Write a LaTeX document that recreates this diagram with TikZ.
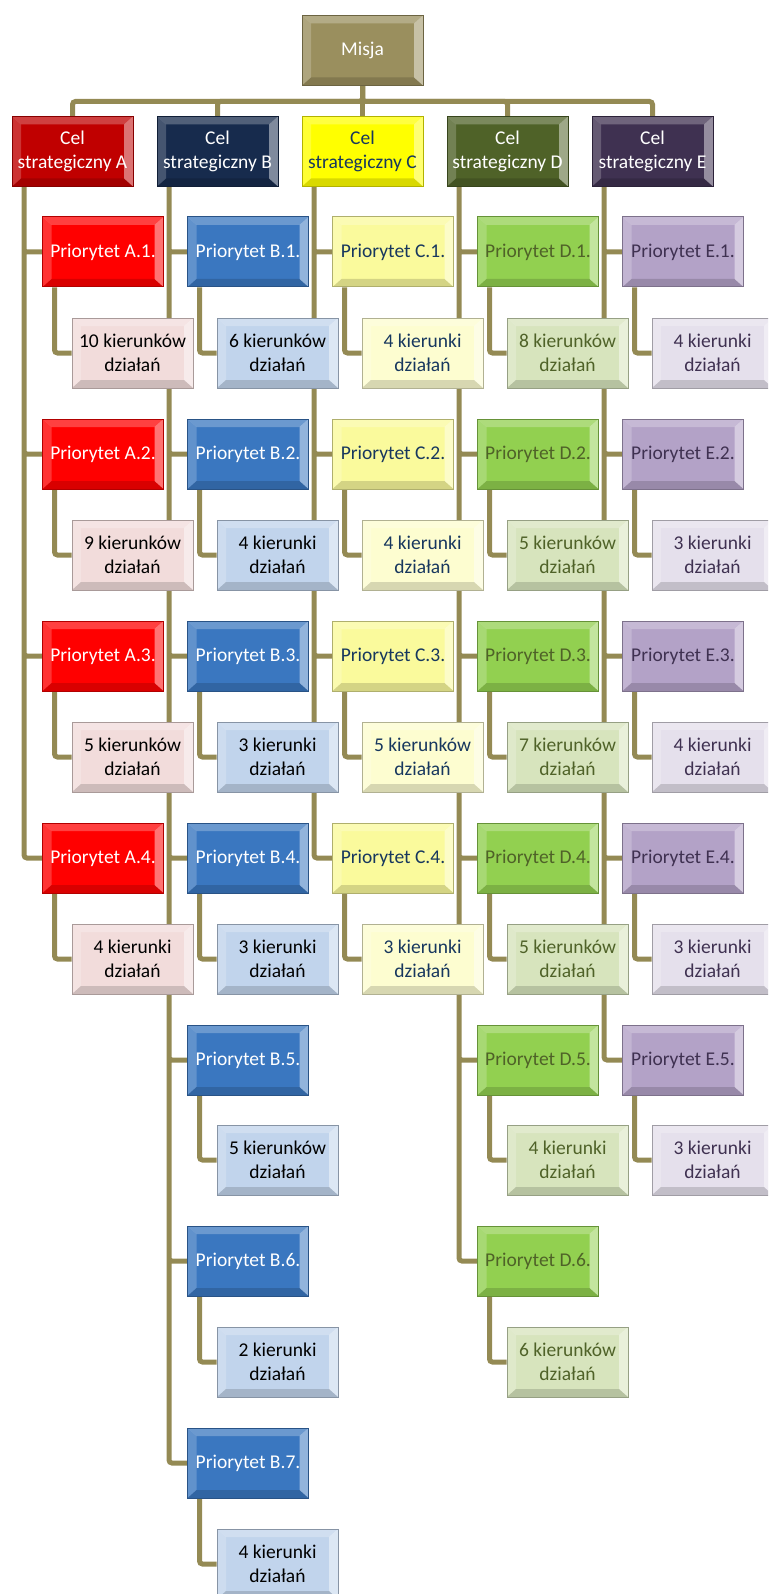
\documentclass[tikz,border=0pt]{standalone}
\usepackage{fontspec}
\setmainfont{Carlito}
\usetikzlibrary{calc,backgrounds}

\definecolor{linkcol}{HTML}{948A54}
\definecolor{misjafill}{HTML}{9A8F5E}
\definecolor{celAfill}{HTML}{C00000}
\definecolor{celBfill}{HTML}{172B4D}
\definecolor{celCfill}{HTML}{FFFF00}
\definecolor{celDfill}{HTML}{4F6228}
\definecolor{celEfill}{HTML}{3F3151}
\definecolor{prAfill}{HTML}{FF0000}
\definecolor{prBfill}{HTML}{3A77C0}
\definecolor{prCfill}{HTML}{FAFA9C}
\definecolor{prDfill}{HTML}{92D050}
\definecolor{prEfill}{HTML}{B3A2C7}
\definecolor{kAfill}{HTML}{F2DCDB}
\definecolor{kBfill}{HTML}{C1D4EC}
\definecolor{kCfill}{HTML}{FDFDD0}
\definecolor{kDfill}{HTML}{D7E4BD}
\definecolor{kEfill}{HTML}{E5E0EC}
\definecolor{navytext}{HTML}{17375E}
\definecolor{olivetext}{HTML}{4F6228}
\definecolor{purpletext}{HTML}{3F3151}

\tikzset{
  bevel/.style={path picture={
    \coordinate (bnw) at (path picture bounding box.north west);
    \coordinate (bne) at (path picture bounding box.north east);
    \coordinate (bsw) at (path picture bounding box.south west);
    \coordinate (bse) at (path picture bounding box.south east);
    \fill[white,opacity=.25] (bnw) -- (bne) -- ([shift={(-9pt,-8pt)}]bne) -- ([shift={(9pt,-8pt)}]bnw) -- cycle;
    \fill[white,opacity=.2] (bnw) -- ([shift={(9pt,-8pt)}]bnw) -- ([shift={(9pt,8pt)}]bsw) -- (bsw) -- cycle;
    \fill[white,opacity=.45] (bne) -- ([shift={(-9pt,-8pt)}]bne) -- ([shift={(-9pt,8pt)}]bse) -- (bse) -- cycle;
    \fill[black,opacity=.15] (bsw) -- ([shift={(9pt,8pt)}]bsw) -- ([shift={(-9pt,8pt)}]bse) -- (bse) -- cycle;
  }},
  box/.style 2 args={draw=#1!70!black, fill=#1, text=#2, line width=1pt,
    minimum width=121pt, minimum height=70pt, inner sep=0pt, align=center,
    font=\fontsize{19.5pt}{23.5pt}\selectfont, bevel},
  tie/.style={draw=linkcol, line width=5pt, rounded corners=3pt}
}

\begin{document}
\begin{tikzpicture}[x=1pt, y=-1pt]
\useasboundingbox (0,0) rectangle (768,1594);
\clip (0,0) rectangle (768,1594);

\node[box={misjafill}{white}] (misja) at (362.5,50.5) {Misja};

% cele strategiczne
\node[box={celAfill}{white}] (celA) at (72.5,151.5) {Cel\\strategiczny A};
\node[box={celBfill}{white}] (celB) at (217.5,151.5) {Cel\\strategiczny B};
\node[box={celCfill}{navytext}] (celC) at (362.5,151.5) {Cel\\strategiczny C};
\node[box={celDfill}{white}] (celD) at (507.5,151.5) {Cel\\strategiczny D};
\node[box={celEfill}{white}] (celE) at (652.5,151.5) {Cel\\strategiczny E};

% A
\node[box={prAfill}{white}] (prA1) at (103,252) {Priorytet A.1.};
\node[box={kAfill}{black}] (kA1) at (132.5,353) {10 kierunków\\działań};
\node[box={prAfill}{white}] (prA2) at (103,454) {Priorytet A.2.};
\node[box={kAfill}{black}] (kA2) at (132.5,555) {9 kierunków\\działań};
\node[box={prAfill}{white}] (prA3) at (103,656) {Priorytet A.3.};
\node[box={kAfill}{black}] (kA3) at (132.5,757) {5 kierunków\\działań};
\node[box={prAfill}{white}] (prA4) at (103,858) {Priorytet A.4.};
\node[box={kAfill}{black}] (kA4) at (132.5,959) {4 kierunki\\działań};

% B
\node[box={prBfill}{white}] (prB1) at (248,252) {Priorytet B.1.};
\node[box={kBfill}{black}] (kB1) at (277.5,353) {6 kierunków\\działań};
\node[box={prBfill}{white}] (prB2) at (248,454) {Priorytet B.2.};
\node[box={kBfill}{black}] (kB2) at (277.5,555) {4 kierunki\\działań};
\node[box={prBfill}{white}] (prB3) at (248,656) {Priorytet B.3.};
\node[box={kBfill}{black}] (kB3) at (277.5,757) {3 kierunki\\działań};
\node[box={prBfill}{white}] (prB4) at (248,858) {Priorytet B.4.};
\node[box={kBfill}{black}] (kB4) at (277.5,959) {3 kierunki\\działań};
\node[box={prBfill}{white}] (prB5) at (248,1060) {Priorytet B.5.};
\node[box={kBfill}{black}] (kB5) at (277.5,1160) {5 kierunków\\działań};
\node[box={prBfill}{white}] (prB6) at (248,1261) {Priorytet B.6.};
\node[box={kBfill}{black}] (kB6) at (277.5,1362) {2 kierunki\\działań};
\node[box={prBfill}{white}] (prB7) at (248,1463) {Priorytet B.7.};
\node[box={kBfill}{black}] (kB7) at (277.5,1564) {4 kierunki\\działań};

% C
\node[box={prCfill}{navytext}] (prC1) at (393,252) {Priorytet C.1.};
\node[box={kCfill}{navytext}] (kC1) at (422.5,353) {4 kierunki\\działań};
\node[box={prCfill}{navytext}] (prC2) at (393,454) {Priorytet C.2.};
\node[box={kCfill}{navytext}] (kC2) at (422.5,555) {4 kierunki\\działań};
\node[box={prCfill}{navytext}] (prC3) at (393,656) {Priorytet C.3.};
\node[box={kCfill}{navytext}] (kC3) at (422.5,757) {5 kierunków\\działań};
\node[box={prCfill}{navytext}] (prC4) at (393,858) {Priorytet C.4.};
\node[box={kCfill}{navytext}] (kC4) at (422.5,959) {3 kierunki\\działań};

% D
\node[box={prDfill}{olivetext}] (prD1) at (538,252) {Priorytet D.1.};
\node[box={kDfill}{olivetext}] (kD1) at (567.5,353) {8 kierunków\\działań};
\node[box={prDfill}{olivetext}] (prD2) at (538,454) {Priorytet D.2.};
\node[box={kDfill}{olivetext}] (kD2) at (567.5,555) {5 kierunków\\działań};
\node[box={prDfill}{olivetext}] (prD3) at (538,656) {Priorytet D.3.};
\node[box={kDfill}{olivetext}] (kD3) at (567.5,757) {7 kierunków\\działań};
\node[box={prDfill}{olivetext}] (prD4) at (538,858) {Priorytet D.4.};
\node[box={kDfill}{olivetext}] (kD4) at (567.5,959) {5 kierunków\\działań};
\node[box={prDfill}{olivetext}] (prD5) at (538,1060) {Priorytet D.5.};
\node[box={kDfill}{olivetext}] (kD5) at (567.5,1160) {4 kierunki\\działań};
\node[box={prDfill}{olivetext}] (prD6) at (538,1261) {Priorytet D.6.};
\node[box={kDfill}{olivetext}] (kD6) at (567.5,1362) {6 kierunków\\działań};

% E
\node[box={prEfill}{purpletext}] (prE1) at (683,252) {Priorytet E.1.};
\node[box={kEfill}{purpletext}] (kE1) at (712.5,353) {4 kierunki\\działań};
\node[box={prEfill}{purpletext}] (prE2) at (683,454) {Priorytet E.2.};
\node[box={kEfill}{purpletext}] (kE2) at (712.5,555) {3 kierunki\\działań};
\node[box={prEfill}{purpletext}] (prE3) at (683,656) {Priorytet E.3.};
\node[box={kEfill}{purpletext}] (kE3) at (712.5,757) {4 kierunki\\działań};
\node[box={prEfill}{purpletext}] (prE4) at (683,858) {Priorytet E.4.};
\node[box={kEfill}{purpletext}] (kE4) at (712.5,959) {3 kierunki\\działań};
\node[box={prEfill}{purpletext}] (prE5) at (683,1060) {Priorytet E.5.};
\node[box={kEfill}{purpletext}] (kE5) at (712.5,1160) {3 kierunki\\działań};

\begin{scope}[on background layer]
% misja -> cele
\draw[tie] (misja.south) -- ++(0,15.5) -| (celA.north);
\draw[tie] (misja.south) -- ++(0,15.5) -| (celB.north);
\draw[tie] (misja) -- (celC);
\draw[tie] (misja.south) -- ++(0,15.5) -| (celD.north);
\draw[tie] (misja.south) -- ++(0,15.5) -| (celE.north);

% cele -> priorytety
\draw[tie] ([xshift=-48.5pt]celA.south) |- (prA1.west) ([xshift=-48.5pt]celA.south) |- (prA2.west)
  ([xshift=-48.5pt]celA.south) |- (prA3.west) ([xshift=-48.5pt]celA.south) |- (prA4.west);
\draw[tie] ([xshift=-48.5pt]celB.south) |- (prB1.west) ([xshift=-48.5pt]celB.south) |- (prB2.west)
  ([xshift=-48.5pt]celB.south) |- (prB3.west) ([xshift=-48.5pt]celB.south) |- (prB4.west)
  ([xshift=-48.5pt]celB.south) |- (prB5.west) ([xshift=-48.5pt]celB.south) |- (prB6.west)
  ([xshift=-48.5pt]celB.south) |- (prB7.west);
\draw[tie] ([xshift=-48.5pt]celC.south) |- (prC1.west) ([xshift=-48.5pt]celC.south) |- (prC2.west)
  ([xshift=-48.5pt]celC.south) |- (prC3.west) ([xshift=-48.5pt]celC.south) |- (prC4.west);
\draw[tie] ([xshift=-48.5pt]celD.south) |- (prD1.west) ([xshift=-48.5pt]celD.south) |- (prD2.west)
  ([xshift=-48.5pt]celD.south) |- (prD3.west) ([xshift=-48.5pt]celD.south) |- (prD4.west)
  ([xshift=-48.5pt]celD.south) |- (prD5.west) ([xshift=-48.5pt]celD.south) |- (prD6.west);
\draw[tie] ([xshift=-48.5pt]celE.south) |- (prE1.west) ([xshift=-48.5pt]celE.south) |- (prE2.west)
  ([xshift=-48.5pt]celE.south) |- (prE3.west) ([xshift=-48.5pt]celE.south) |- (prE4.west)
  ([xshift=-48.5pt]celE.south) |- (prE5.west);

% priorytety -> kierunki
\draw[tie] ([xshift=-48.5pt]prA1.south) |- (kA1.west) ([xshift=-48.5pt]prA2.south) |- (kA2.west)
  ([xshift=-48.5pt]prA3.south) |- (kA3.west) ([xshift=-48.5pt]prA4.south) |- (kA4.west);
\draw[tie] ([xshift=-48.5pt]prB1.south) |- (kB1.west) ([xshift=-48.5pt]prB2.south) |- (kB2.west)
  ([xshift=-48.5pt]prB3.south) |- (kB3.west) ([xshift=-48.5pt]prB4.south) |- (kB4.west)
  ([xshift=-48.5pt]prB5.south) |- (kB5.west) ([xshift=-48.5pt]prB6.south) |- (kB6.west)
  ([xshift=-48.5pt]prB7.south) |- (kB7.west);
\draw[tie] ([xshift=-48.5pt]prC1.south) |- (kC1.west) ([xshift=-48.5pt]prC2.south) |- (kC2.west)
  ([xshift=-48.5pt]prC3.south) |- (kC3.west) ([xshift=-48.5pt]prC4.south) |- (kC4.west);
\draw[tie] ([xshift=-48.5pt]prD1.south) |- (kD1.west) ([xshift=-48.5pt]prD2.south) |- (kD2.west)
  ([xshift=-48.5pt]prD3.south) |- (kD3.west) ([xshift=-48.5pt]prD4.south) |- (kD4.west)
  ([xshift=-48.5pt]prD5.south) |- (kD5.west) ([xshift=-48.5pt]prD6.south) |- (kD6.west);
\draw[tie] ([xshift=-48.5pt]prE1.south) |- (kE1.west) ([xshift=-48.5pt]prE2.south) |- (kE2.west)
  ([xshift=-48.5pt]prE3.south) |- (kE3.west) ([xshift=-48.5pt]prE4.south) |- (kE4.west)
  ([xshift=-48.5pt]prE5.south) |- (kE5.west);
\end{scope}
\end{tikzpicture}
\end{document}
